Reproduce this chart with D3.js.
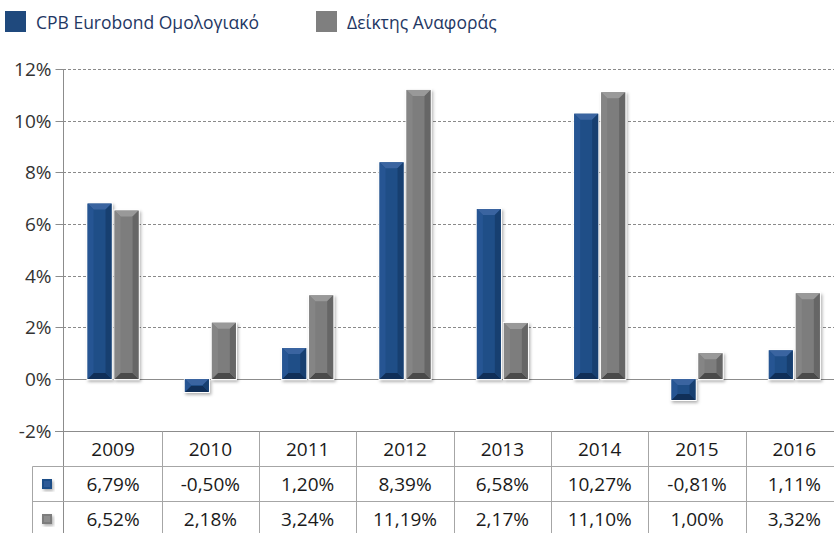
<!DOCTYPE html>
<html>
<head>
<meta charset="utf-8">
<script src="https://cdn.jsdelivr.net/npm/d3@7"></script>
<style>
  html, body { margin: 0; padding: 0; background: #ffffff; }
  svg { display: block; }
  text { font-family: "Open Sans", "Noto Sans", sans-serif; }
</style>
</head>
<body>
<div id="chart"></div>
<script>
// ---- data ----
const years = ["2009", "2010", "2011", "2012", "2013", "2014", "2015", "2016"];
const seriesNames = ["CPB Eurobond Ομολογιακό", "Δείκτης Αναφοράς"];
const cpbValues = [6.79, -0.50, 1.20, 8.39, 6.58, 10.27, -0.81, 1.11];
const benchValues = [6.52, 2.18, 3.24, 11.19, 2.17, 11.10, 1.00, 3.32];
const yTickValues = [-2, 0, 2, 4, 6, 8, 10, 12];

// ---- styles ----
const W = 834, H = 533;
const palettes = [
  { base: "#1F4E87", top: "#3a64a0", bottom: "#102f58", left: "#265593", right: "#173f70", legend: "#1F497D" },
  { base: "#7d7d7d", top: "#999999", bottom: "#4a4a4a", left: "#858585", right: "#666666", legend: "#7F7F7F" }
];
const textColor = "#1a1a1a";
const axisColor = "#8c8c8c";

const series = [cpbValues, benchValues];

const svg = d3.select("#chart").append("svg")
  .attr("width", W).attr("height", H);

const defs = svg.append("defs");
const f = defs.append("filter").attr("id", "shadow")
  .attr("x", "-30%").attr("y", "-30%").attr("width", "160%").attr("height", "160%");
f.append("feDropShadow").attr("dx", 1.5).attr("dy", 2).attr("stdDeviation", 1.8)
  .attr("flood-color", "#000").attr("flood-opacity", 0.3);

// ---- scales ----
const x = d3.scaleBand().domain(years).range([64.4, 843]).paddingInner(0).paddingOuter(0);
const y = d3.scaleLinear().domain([-2, 12]).range([430.7, 69]);
const xSub = d3.scaleBand().domain([0, 1])
  .range([x.bandwidth() / 2 - 25.5, x.bandwidth() / 2 + 25.5])
  .paddingInner(0.111).paddingOuter(0);

// ---- gridlines ----
const grid = svg.append("g");
grid.selectAll("line").data(yTickValues.filter(d => d > 0)).join("line")
  .attr("x1", 63).attr("x2", W)
  .attr("y1", d => Math.round(y(d)) + 0.5).attr("y2", d => Math.round(y(d)) + 0.5)
  .attr("stroke", "#8a8a8a").attr("stroke-width", 1)
  .attr("stroke-dasharray", "3,2");

// ---- y axis ----
const yAxis = d3.axisLeft(y).tickValues(yTickValues).tickFormat(d => (d < 0 ? "-" + Math.abs(d) : d) + "%")
  .tickSize(8).tickPadding(4);
const gy = svg.append("g").attr("transform", "translate(63.5,0)").call(yAxis);
gy.select(".domain").attr("stroke", axisColor).attr("d", `M0,${y(12)}V${H}`);
gy.selectAll(".tick line").attr("stroke", axisColor);
gy.selectAll(".tick").attr("transform", d => `translate(0,${Math.round(y(d)) + 0.5})`);
gy.selectAll(".tick text").attr("fill", "#333").style("font-size", "19px")
  .style("font-family", "'Open Sans', sans-serif");

// zero line (solid)
svg.append("line").attr("x1", 63).attr("x2", W)
  .attr("y1", Math.round(y(0)) + 0.5).attr("y2", Math.round(y(0)) + 0.5)
  .attr("stroke", axisColor);

// ---- bars ----
function drawBevelBar(g, x0, w, v, pal) {
  const ya = y(Math.max(v, 0)), yb = y(Math.min(v, 0));
  const h = yb - ya;
  const b = Math.min(6, h / 2, w / 2);
  const bar = g.append("g");
  bar.append("rect").attr("x", x0 - 1).attr("y", ya - 1).attr("width", w + 2).attr("height", h + 2)
    .attr("fill", "#ffffff").attr("filter", "url(#shadow)");
  bar.append("rect").attr("x", x0).attr("y", ya).attr("width", w).attr("height", h).attr("fill", pal.base);
  const x1 = x0 + w;
  const poly = (pts, fill) => bar.append("polygon").attr("points", pts.map(p => p.join(",")).join(" ")).attr("fill", fill);
  poly([[x0, ya], [x1, ya], [x1 - b, ya + b], [x0 + b, ya + b]], pal.top);
  poly([[x0, yb], [x1, yb], [x1 - b, yb - b], [x0 + b, yb - b]], pal.bottom);
  poly([[x0, ya], [x0 + b, ya + b], [x0 + b, yb - b], [x0, yb]], pal.left);
  poly([[x1, ya], [x1 - b, ya + b], [x1 - b, yb - b], [x1, yb]], pal.right);
}

const barsG = svg.append("g");
years.forEach((yr, i) => {
  series.forEach((vals, s) => {
    drawBevelBar(barsG, x(yr) + xSub(s), xSub.bandwidth(), vals[i], palettes[s]);
  });
});

// ---- data table ----
const fmtLocale = d3.formatLocale({ decimal: ",", thousands: ".", grouping: [3], currency: ["", "€"], minus: "-" });
const fmt = fmtLocale.format(".2f");
const tableTop = Math.round(y(-2)) + 0.5;
const rowH = 35;
const tableLeft = 32.5;
const tbl = svg.append("g");
const lineColor = "#a6a6a6";

tbl.append("line").attr("x1", 55).attr("x2", W).attr("y1", tableTop).attr("y2", tableTop).attr("stroke", axisColor);
[1, 2].forEach(r => {
  tbl.append("line").attr("x1", tableLeft).attr("x2", W)
    .attr("y1", tableTop + r * rowH).attr("y2", tableTop + r * rowH).attr("stroke", lineColor);
});
tbl.append("line").attr("x1", tableLeft).attr("x2", tableLeft)
  .attr("y1", tableTop + rowH).attr("y2", H).attr("stroke", lineColor);
years.forEach((yr, i) => {
  if (i === 0) return;
  const xx = Math.round(x(yr)) + 0.5;
  tbl.append("line").attr("x1", xx).attr("x2", xx).attr("y1", tableTop).attr("y2", H).attr("stroke", lineColor);
});

tbl.selectAll("text.yr").data(years).join("text").attr("class", "yr")
  .attr("x", d => x(d) + x.bandwidth() / 2).attr("y", tableTop + rowH / 2)
  .attr("text-anchor", "middle").attr("dominant-baseline", "central")
  .attr("fill", textColor).style("font-size", "19px").text(d => d);

series.forEach((vals, s) => {
  const cy = tableTop + rowH * (s + 1) + rowH / 2;
  tbl.selectAll(`text.v${s}`).data(vals).join("text").attr("class", `v${s}`)
    .attr("x", (d, i) => x(years[i]) + x.bandwidth() / 2).attr("y", cy)
    .attr("text-anchor", "middle").attr("dominant-baseline", "central")
    .attr("fill", textColor).style("font-size", "19px").text(d => fmt(d) + "%");
  const k = tbl.append("g");
  k.append("rect").attr("x", 42).attr("y", cy - 5).attr("width", 10).attr("height", 10)
    .attr("fill", palettes[s].base).attr("filter", "url(#shadow)");
  k.append("rect").attr("x", 44).attr("y", cy - 3).attr("width", 6).attr("height", 6)
    .attr("fill", palettes[s].top).attr("opacity", 0.6);
});

// ---- legend ----
const legend = svg.append("g");
const legendX = [5, 316];
seriesNames.forEach((name, s) => {
  legend.append("rect").attr("x", legendX[s]).attr("y", 11).attr("width", 21).attr("height", 21)
    .attr("fill", palettes[s].legend);
  legend.append("text").attr("x", legendX[s] + 31).attr("y", 21.5)
    .attr("dominant-baseline", "central").attr("fill", "#1F3864")
    .style("font-size", "17.5px").text(name);
});
</script>
</body>
</html>
